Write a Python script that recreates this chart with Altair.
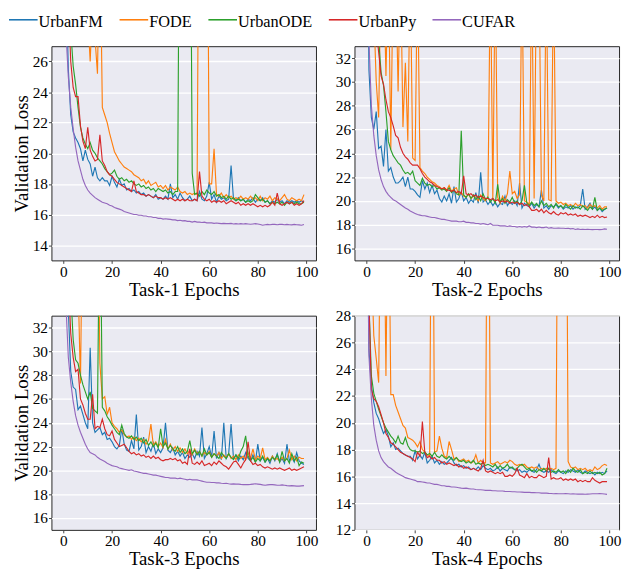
import altair as alt
import pandas as pd

models = ["UrbanFM", "FODE", "UrbanODE", "UrbanPy", "CUFAR"]
colors = ["#1f77b4", "#ff7f0e", "#2ca02c", "#d62728", "#9467bd"]
epochs = list(range(100))
x_ticks = [0, 20, 40, 60, 80, 100]

# ---------------- Task-1 ----------------
t1_urbanfm = [45, 32, 25.5, 22.5, 21.4, 21.0, 20.7, 20.3, 19.5, 20.2, 19.6, 19.3, 18.5, 19.1, 18.4, 18.2, 18.4, 18.2, 18.2, 17.9,
              18.5, 18.1, 17.8, 18.3, 17.9, 18.0, 17.6, 17.7, 17.5, 17.6, 17.4, 17.5, 17.3, 17.4, 17.2, 17.3, 17.2, 17.1, 17.3, 17.0,
              17.1, 17.0, 17.2, 17.0, 18.0, 17.1, 17.3, 17.0, 17.4, 17.1, 16.9, 17.0, 17.2, 16.9, 17.0, 16.9, 17.5, 17.0, 16.9, 17.2,
              18.1, 17.0, 17.3, 16.8, 17.2, 17.0, 17.1, 16.9, 17.0, 19.2, 17.0, 16.9, 17.1, 16.9, 17.0, 16.8, 17.0, 16.9, 17.1, 16.8,
              17.0, 16.9, 17.1, 16.8, 16.9, 16.7, 16.9, 16.8, 17.0, 16.8, 16.9, 16.7, 16.9, 16.8, 16.9, 16.8, 16.9, 16.8, 16.9, 16.8]
t1_fode = [50, 48, 46, 44, 42, 40, 38, 36, 34, 32, 29, 26.0, 30, 27.5, 25.2, 35, 23.0, 22.5, 22.0, 21.3,
           20.7, 20.1, 19.8, 19.5, 19.3, 19.1, 19.0, 18.9, 18.8, 18.6, 18.5, 18.4, 18.2, 18.3, 18.0, 18.2, 17.9, 18.0, 18.1, 17.8,
           17.9, 17.7, 17.9, 17.6, 17.8, 17.7, 17.6, 17.8, 17.5, 17.4, 17.5, 17.3, 17.4, 17.3, 17.4, 17.3, 45, 45, 45, 45,
           18.0, 18.0, 20.3, 17.3, 17.2, 17.4, 17.1, 17.3, 17.1, 17.2, 17.0, 17.1, 17.0, 17.2, 17.0, 17.1, 17.0, 17.2, 17.0, 17.1,
           16.9, 17.2, 16.9, 17.1, 17.0, 17.2, 16.9, 17.1, 17.0, 16.9, 17.1, 17.3, 17.0, 16.9, 17.1, 17.0, 16.9, 17.0, 16.9, 17.3]
t1_urbanode = [45, 38, 32, 28, 25.7, 24.5, 23.0, 21.7, 21.0, 20.6, 20.3, 20.7, 20.2, 20.0, 19.7, 19.5, 19.3, 19.0, 18.8, 18.6,
               18.7, 18.9, 18.5, 18.3, 18.4, 18.2, 18.3, 18.1, 18.2, 18.0, 17.9, 18.0, 17.8, 17.9, 17.7, 17.8, 17.6, 17.7, 17.5, 17.7,
               17.6, 17.5, 17.6, 17.4, 17.5, 17.3, 17.5, 17.5, 45, 45, 45, 45, 45, 18.7, 17.3, 17.4, 17.2, 17.5, 17.3, 17.6,
               17.4, 17.3, 17.5, 17.2, 17.3, 17.1, 17.2, 17.0, 17.2, 17.0, 17.1, 16.9, 17.0, 16.9, 17.0, 16.8, 16.9, 16.8, 16.9, 17.3,
               17.1, 16.9, 17.0, 16.8, 16.9, 16.7, 16.8, 16.7, 16.8, 16.7, 16.8, 16.6, 16.8, 16.7, 16.8, 16.7, 16.8, 16.7, 16.7, 16.8]
t1_urbanpy = [45, 36, 30, 26.0, 24.3, 23.7, 23.7, 21.8, 20.8, 20.3, 21.7, 20.2, 19.8, 19.5, 19.6, 21.2, 19.5, 19.2, 18.8, 18.6,
              18.5, 18.3, 18.1, 18.0, 17.9, 17.8, 17.7, 17.6, 17.5, 18.2, 17.5, 17.4, 17.3, 17.3, 17.2, 17.3, 17.2, 17.1, 17.2, 17.1,
              17.1, 17.0, 17.1, 17.0, 17.1, 17.0, 16.9, 17.0, 16.9, 17.0, 16.9, 17.0, 16.9, 16.9, 17.0, 16.9, 18.8, 17.2, 17.0, 16.9,
              17.0, 16.8, 16.9, 16.8, 16.9, 16.8, 16.9, 16.7, 16.8, 16.9, 16.8, 16.7, 16.8, 16.6, 16.7, 16.6, 16.7, 16.6, 16.7, 16.6,
              16.5, 16.6, 16.5, 16.6, 16.5, 16.6, 16.8, 16.6, 17.4, 16.7, 16.6, 16.7, 16.8, 16.7, 16.8, 16.6, 16.7, 16.6, 16.7, 16.9]
t1_cufar = [45, 28.0, 25.0, 23.0, 21.6, 20.4, 19.5, 18.9, 18.3, 17.9, 17.6, 17.4, 17.25, 17.1, 17.0, 16.9, 16.8, 16.75, 16.7, 16.6,
            16.55, 16.45, 16.4, 16.35, 16.3, 16.2, 16.15, 16.1, 16.05, 16.0, 16.0, 15.95, 15.95, 15.9, 15.9, 15.85, 15.85, 15.8, 15.8, 15.75,
            15.75, 15.7, 15.72, 15.7, 15.68, 15.65, 15.65, 15.6, 15.62, 15.58, 15.6, 15.55, 15.55, 15.5, 15.55, 15.5, 15.5, 15.48, 15.5, 15.45,
            15.45, 15.45, 15.42, 15.44, 15.42, 15.4, 15.42, 15.4, 15.4, 15.42, 15.38, 15.4, 15.38, 15.4, 15.38, 15.4, 15.38, 15.36, 15.38, 15.4,
            15.38, 15.35, 15.3, 15.33, 15.35, 15.33, 15.35, 15.35, 15.33, 15.35, 15.35, 15.33, 15.35, 15.33, 15.32, 15.35, 15.33, 15.32, 15.3, 15.35]

# ---------------- Task-2 ----------------
t2_urbanfm = [50, 31, 27.0, 26.0, 27.5, 24.4, 24.6, 22.9, 26.0, 22.5, 22.8, 22.0, 21.5, 21.5, 21.7, 22.0, 21.2, 22.0, 21.0, 21.0,
              20.8, 20.5, 20.3, 21.7, 21.0, 21.5, 20.7, 21.3, 20.6, 20.9, 20.2, 19.9, 20.4, 20.0, 20.6, 19.8, 21.2, 19.9, 20.2, 20.8,
              20.0, 20.3, 19.8, 20.1, 19.9, 20.7, 19.8, 22.4, 19.9, 20.1, 19.7, 20.0, 19.6, 19.9, 19.5, 19.8, 19.7, 20.4, 19.6, 19.9,
              19.7, 20.0, 19.6, 21.5, 19.4, 19.8, 19.6, 19.5, 19.8, 19.4, 19.7, 19.5, 20.9, 19.4, 19.6, 19.3, 19.6, 19.5, 19.7, 19.4,
              19.6, 19.3, 19.5, 19.4, 19.6, 19.3, 19.5, 19.4, 19.6, 21.0, 19.3, 19.5, 19.8, 19.3, 19.5, 19.2, 19.4, 19.1, 19.3, 19.4]
t2_fode = [50, 48, 45, 36, 30, 27.0, 40, 40, 30.5, 40, 24.3, 40, 40, 29.2, 40, 26.2, 31.6, 25.0, 40, 23.6,
           23.4, 40, 22.8, 22.5, 22.3, 22.0, 21.8, 21.6, 21.5, 21.3, 21.2, 21.0, 21.1, 20.9, 21.3, 20.8, 21.0, 21.1, 20.5, 20.7,
           20.4, 20.3, 20.6, 20.2, 20.4, 20.3, 20.0, 20.5, 20.2, 20.0, 20.4, 40, 20.2, 40, 20.3, 19.8, 20.4, 20.0, 20.6, 22.5,
           20.6, 20.8, 20.2, 20.5, 40, 20.0, 19.9, 19.7, 40, 20.2, 40, 40, 20.5, 20.0, 40, 20.1, 20.0, 40, 20.0, 19.8,
           19.9, 19.7, 19.8, 19.6, 19.7, 19.5, 19.8, 19.6, 19.7, 19.5, 19.6, 19.4, 19.7, 19.5, 19.6, 19.4, 19.6, 19.3, 19.5, 19.5]
t2_urbanode = [50, 45, 40, 37, 35, 33.5, 30.8, 29.7, 27.5, 25.0, 24.3, 23.8, 23.5, 23.2, 23.0, 22.6, 22.3, 22.4, 22.2, 22.5,
               21.7, 21.5, 21.3, 21.9, 21.5, 21.3, 21.4, 21.2, 21.3, 21.0, 21.1, 20.9, 21.0, 20.8, 21.1, 20.7, 20.9, 20.6, 20.5, 25.9,
               20.5, 20.3, 20.6, 20.2, 20.5, 20.1, 20.4, 20.0, 20.6, 20.1, 20.3, 19.9, 20.2, 19.8, 21.4, 19.9, 20.2, 19.8, 20.1, 19.9,
               20.3, 19.8, 20.0, 19.7, 20.0, 21.3, 19.8, 19.6, 19.9, 19.6, 19.8, 19.5, 20.0, 19.6, 19.8, 19.5, 19.7, 19.4, 19.8, 19.5,
               19.6, 19.4, 19.7, 19.5, 19.3, 19.6, 19.4, 19.5, 19.3, 19.6, 19.4, 19.2, 19.5, 19.3, 20.3, 19.2, 19.4, 19.2, 19.3, 19.4]
t2_urbanpy = [50, 45, 40, 37, 34.5, 32.5, 30.5, 29.8, 28.5, 27.5, 27.0, 26.3, 25.5, 25.3, 24.5, 24.0, 23.7, 23.5, 23.2, 23.0,
              23.0, 23.0, 22.7, 22.3, 22.0, 21.8, 21.6, 21.5, 21.3, 21.2, 21.1, 21.0, 21.1, 20.9, 20.9, 20.8, 20.9, 20.7, 20.8, 20.6,
              22.1, 20.6, 20.5, 20.6, 20.4, 20.5, 20.3, 20.4, 20.3, 20.2, 20.2, 20.1, 20.2, 20.0, 20.1, 19.9, 20.0, 19.9, 20.0, 19.8,
              19.9, 19.8, 19.9, 19.7, 19.8, 19.6, 19.7, 19.5, 19.2, 19.2, 19.3, 19.1, 19.3, 19.0, 19.2, 19.0, 18.9, 19.1, 18.9, 18.8,
              19.0, 18.9, 19.0, 18.8, 18.9, 18.8, 18.9, 18.7, 18.8, 18.7, 18.8, 18.7, 18.6, 18.7, 18.6, 18.8, 18.6, 18.7, 18.6, 18.65]
t2_cufar = [50, 33.5, 28.0, 25.5, 23.8, 22.6, 21.8, 21.2, 20.8, 20.5, 20.3, 20.1, 20.0, 19.85, 19.7, 19.55, 19.4, 19.3, 19.15, 19.05,
            18.95, 18.85, 18.8, 18.75, 18.75, 18.7, 18.65, 18.6, 18.6, 18.55, 18.5, 18.45, 18.45, 18.4, 18.35, 18.3, 18.3, 18.3, 18.25, 18.25,
            18.3, 18.2, 18.2, 18.15, 18.15, 18.1, 18.1, 18.05, 18.1, 18.05, 18.0, 18.1, 17.95, 17.95, 17.95, 17.9, 17.9, 17.9, 17.85, 17.9,
            17.85, 17.85, 17.8, 17.85, 17.8, 17.85, 17.8, 17.9, 17.8, 17.8, 17.75, 17.8, 17.75, 17.75, 17.8, 17.7, 17.75, 17.7, 17.7, 17.72,
            17.7, 17.7, 17.68, 17.7, 17.65, 17.68, 17.6, 17.65, 17.6, 17.62, 17.6, 17.62, 17.6, 17.58, 17.6, 17.6, 17.58, 17.6, 17.65, 17.62]

# ---------------- Task-3 ----------------
t3_urbanfm = [50, 40, 33.5, 28.3, 27.0, 26.8, 25.1, 25.4, 24.7, 24.0, 23.5, 30.3, 24.0, 23.2, 23.4, 23.6, 23.0, 23.2, 22.6, 22.7,
              22.4, 22.0, 21.8, 22.1, 23.5, 22.2, 21.7, 21.6, 22.5, 21.8, 24.7, 21.7, 22.0, 22.8, 21.5, 22.0, 21.6, 22.3, 21.4, 21.8,
              21.5, 21.9, 24.0, 21.7, 21.5, 21.9, 21.3, 21.6, 21.2, 21.5, 21.0, 21.3, 21.1, 21.4, 21.0, 21.6, 21.2, 23.6, 21.0, 21.4,
              22.0, 21.1, 23.3, 21.0, 21.5, 20.9, 24.0, 21.0, 21.4, 23.9, 21.0, 21.3, 20.8, 21.2, 20.9, 21.5, 21.0, 20.8, 21.3, 20.7,
              22.2, 20.8, 21.1, 20.7, 21.0, 20.6, 21.2, 20.8, 21.4, 20.7, 21.0, 20.6, 22.2, 20.8, 21.1, 20.7, 21.5, 20.8, 20.6, 20.5]
t3_fode = [50, 48, 45, 42, 40, 38, 36, 27.3, 45, 45, 45, 45, 45, 45, 45, 29.0, 26.0, 26.2, 24.7, 25.3,
           24.0, 23.7, 23.5, 23.2, 23.4, 23.0, 22.8, 22.9, 22.6, 22.8, 22.5, 22.7, 22.4, 22.6, 22.2, 22.5, 23.9, 22.1, 22.4, 22.0,
           22.3, 21.9, 22.6, 21.8, 22.2, 21.7, 22.0, 21.6, 21.9, 21.5, 21.8, 21.4, 21.7, 21.3, 21.8, 21.4, 21.6, 21.2, 21.5, 21.3,
           21.6, 21.1, 21.4, 21.2, 21.5, 21.0, 21.3, 21.1, 21.4, 21.0, 21.2, 20.9, 21.3, 21.0, 21.2, 20.9, 21.5, 21.0, 21.8, 20.9,
           21.2, 21.0, 21.9, 20.9, 21.1, 20.8, 21.2, 20.9, 21.0, 20.8, 21.1, 20.8, 21.0, 21.7, 20.9, 21.2, 20.8, 21.1, 21.0, 21.0]
t3_urbanode = [50, 45, 40, 35, 31, 29.3, 29.0, 28.0, 27.2, 26.6, 26.0, 26.6, 25.2, 25.0, 24.8, 45, 25.3, 25.0, 24.5, 24.2,
               23.8, 23.5, 23.2, 23.0, 23.8, 23.1, 22.8, 22.7, 22.9, 22.6, 22.8, 22.5, 22.7, 22.3, 22.6, 22.1, 22.4, 22.0, 22.3, 21.9,
               23.5, 22.0, 22.3, 21.8, 22.1, 21.8, 21.6, 22.0, 21.5, 21.8, 21.4, 21.6, 22.5, 21.4, 21.7, 21.3, 21.6, 21.2, 21.8, 21.3,
               21.5, 21.1, 21.4, 21.2, 21.0, 21.5, 21.2, 21.0, 21.4, 21.1, 20.9, 21.3, 21.0, 21.6, 22.0, 22.9, 21.2, 20.8, 21.1, 20.7,
               21.0, 20.8, 21.2, 20.7, 21.0, 20.8, 21.1, 20.9, 21.3, 20.7, 21.6, 20.8, 21.0, 20.6, 21.4, 20.8, 21.1, 20.4, 20.7, 20.6]
t3_urbanpy = [50, 42, 36, 31.5, 29.5, 28.3, 28.5, 26.0, 25.5, 24.8, 24.3, 24.3, 26.4, 23.5, 23.7, 23.6, 24.3, 23.5, 23.0, 22.9,
              23.3, 22.6, 22.3, 22.0, 22.1, 22.2, 21.9, 21.6, 21.4, 21.5, 21.3, 21.4, 21.2, 21.3, 21.1, 21.2, 21.0, 21.2, 21.0, 21.1,
              20.9, 20.8, 20.9, 20.9, 21.0, 20.9, 21.0, 20.8, 20.9, 20.6, 20.7, 20.5, 21.8, 20.6, 20.5, 20.7, 20.5, 20.8, 20.4, 20.5,
              20.6, 20.4, 20.7, 20.5, 20.8, 20.6, 20.4, 20.3, 20.1, 20.4, 20.7, 20.8, 20.5, 20.2, 20.6, 20.9, 22.4, 20.8, 20.5, 20.6,
              20.4, 20.5, 20.3, 20.2, 20.3, 20.2, 20.1, 20.2, 20.1, 20.2, 20.1, 20.0, 20.1, 20.2, 20.0, 20.1, 20.0, 20.1, 20.2, 20.3]
t3_cufar = [50, 34, 29.5, 27.4, 25.8, 24.6, 23.8, 23.2, 22.7, 22.2, 21.8, 21.5, 21.4, 21.3, 21.1, 20.95, 20.85, 20.75, 20.6, 20.5,
            20.4, 20.35, 20.3, 20.2, 20.15, 20.1, 20.05, 20.0, 20.05, 19.95, 19.9, 19.85, 19.8, 19.75, 19.75, 19.7, 19.65, 19.6, 19.6, 19.55,
            19.5, 19.45, 19.4, 19.4, 19.35, 19.35, 19.35, 19.3, 19.35, 19.3, 19.25, 19.2, 19.25, 19.2, 19.2, 19.2, 19.15, 19.1, 19.05, 19.0,
            19.0, 18.98, 18.98, 18.95, 18.95, 18.92, 18.9, 18.92, 18.88, 18.85, 18.87, 18.85, 18.85, 18.82, 18.8, 18.8, 18.8, 18.82, 18.85, 18.88,
            18.85, 18.82, 18.78, 18.75, 18.78, 18.8, 18.8, 18.78, 18.75, 18.75, 18.78, 18.75, 18.72, 18.7, 18.72, 18.7, 18.68, 18.68, 18.7, 18.72]

# ---------------- Task-4 ----------------
t4_urbanfm = [40, 25.5, 22.8, 21.5, 20.7, 20.3, 19.7, 19.2, 19.5, 19.0, 18.2, 18.5, 18.0, 18.1, 17.9, 17.7, 17.6, 17.5, 17.5, 17.2,
              17.9, 17.3, 17.6, 17.3, 17.8, 17.0, 17.2, 17.5, 17.0, 17.2, 16.9, 17.1, 16.9, 17.0, 17.2, 17.4, 17.0, 16.8, 16.9, 16.7,
              16.8, 16.6, 16.7, 16.5, 16.6, 16.5, 16.7, 16.5, 16.8, 16.6, 16.5, 16.6, 16.4, 16.5, 16.7, 16.4, 16.6, 16.5, 16.4, 16.7,
              16.6, 16.5, 16.4, 16.5, 16.3, 16.4, 16.3, 16.5, 16.4, 16.3, 16.5, 16.9, 16.4, 16.3, 16.4, 16.3, 16.5, 16.3, 16.2, 16.4,
              16.3, 16.2, 16.4, 16.3, 16.5, 16.4, 16.3, 16.5, 16.3, 16.2, 16.4, 16.3, 16.2, 16.3, 16.1, 16.3, 16.2, 16.3, 16.2, 16.4]
t4_fode = [45, 40, 32, 26.5, 24.8, 23.0, 40, 40, 23.5, 40, 22.1, 22.1, 21.3, 20.8, 20.3, 19.8, 19.6, 18.9, 18.8, 18.7,
           18.5, 18.2, 18.6, 18.0, 17.8, 17.6, 17.5, 50, 17.8, 17.9, 19.0, 18.1, 17.5, 17.4, 18.6, 18.0, 17.3, 17.4, 17.1, 17.2,
           17.3, 17.1, 17.2, 17.0, 17.1, 17.6, 17.0, 17.2, 17.0, 17.0, 50, 17.0, 16.9, 17.0, 17.1, 16.9, 17.0, 17.1, 17.0, 17.2,
           17.1, 16.9, 16.8, 16.9, 16.8, 16.9, 16.7, 16.6, 16.7, 16.6, 16.7, 16.5, 16.6, 16.5, 16.6, 16.5, 16.6, 16.5, 16.6, 50,
           50, 50, 50, 17.1, 16.7, 16.6, 16.7, 16.5, 16.6, 16.5, 16.6, 16.4, 16.5, 16.4, 16.7, 16.5, 16.6, 16.8, 16.9, 16.8]
t4_urbanode = [40, 29, 23.5, 22.2, 21.6, 21.0, 20.5, 20.0, 19.6, 19.3, 19.0, 18.8, 18.5, 19.0, 18.5, 18.4, 18.9, 18.3, 18.0, 17.9,
               17.9, 17.8, 17.9, 17.7, 17.8, 17.6, 17.7, 17.5, 17.8, 17.5, 17.4, 17.6, 17.4, 17.3, 17.5, 17.3, 17.2, 17.4, 17.2, 17.1,
               17.2, 17.0, 17.1, 17.0, 17.2, 16.9, 17.0, 16.9, 17.0, 16.8, 16.9, 16.8, 16.7, 16.9, 16.6, 16.8, 16.6, 16.7, 16.9, 16.6,
               16.7, 16.5, 16.6, 16.8, 16.9, 16.7, 16.5, 16.6, 16.4, 16.5, 16.3, 16.5, 16.4, 16.6, 16.4, 16.6, 16.3, 16.4, 16.3, 16.5,
               16.3, 16.4, 16.2, 16.5, 16.3, 16.6, 16.4, 16.3, 16.5, 16.2, 16.3, 16.2, 16.4, 16.2, 16.3, 16.2, 16.3, 16.1, 16.2, 16.6]
t4_urbanpy = [40, 29, 22.5, 21.8, 21.6, 21.2, 20.6, 20.0, 19.2, 18.9, 18.5, 18.4, 18.2, 18.0, 17.8, 17.7, 17.6, 17.5, 17.4, 17.3,
              17.1, 17.8, 17.5, 20.1, 17.8, 17.4, 17.5, 17.3, 17.4, 17.2, 17.2, 17.0, 17.1, 16.9, 17.0, 16.9, 16.8, 16.9, 16.7, 16.8,
              16.6, 16.7, 16.6, 16.5, 16.6, 16.5, 16.4, 16.6, 17.2, 16.4, 16.3, 16.4, 16.3, 16.2, 16.3, 16.2, 16.3, 16.0, 16.0, 16.1,
              16.0, 16.2, 16.6, 16.1, 16.0, 15.9, 16.2, 15.9, 16.0, 15.9, 15.9, 16.1, 16.0, 15.9, 16.0, 17.4, 15.8, 15.9, 15.8, 15.8,
              15.9, 15.7, 15.8, 15.7, 15.8, 15.7, 15.8, 15.6, 15.7, 15.6, 15.7, 15.6, 15.6, 15.9, 15.7, 15.6, 15.5, 15.6, 15.6, 15.6]
t4_cufar = [40, 25.0, 21.8, 19.8, 18.7, 17.9, 17.4, 17.1, 16.9, 16.7, 16.6, 16.45, 16.3, 16.2, 16.1, 16.0, 15.9, 15.85, 15.8, 15.75,
            15.7, 15.6, 15.6, 15.58, 15.55, 15.5, 15.5, 15.45, 15.4, 15.4, 15.35, 15.3, 15.3, 15.25, 15.25, 15.2, 15.2, 15.18, 15.15, 15.12,
            15.1, 15.12, 15.08, 15.05, 15.05, 15.02, 15.0, 15.0, 14.98, 14.95, 14.95, 14.95, 14.92, 14.92, 14.9, 14.9, 14.9, 14.88, 14.87, 14.87,
            14.85, 14.85, 14.83, 14.83, 14.82, 14.8, 14.8, 14.8, 14.78, 14.78, 14.77, 14.77, 14.75, 14.75, 14.75, 14.73, 14.72, 14.7, 14.72, 14.7,
            14.7, 14.7, 14.72, 14.7, 14.68, 14.7, 14.68, 14.67, 14.68, 14.67, 14.66, 14.67, 14.68, 14.7, 14.7, 14.7, 14.72, 14.7, 14.68, 14.65]

panels = [
    ("Task-1 Epochs", [t1_urbanfm, t1_fode, t1_urbanode, t1_urbanpy, t1_cufar], [13, 27], [14, 16, 18, 20, 22, 24, 26], True),
    ("Task-2 Epochs", [t2_urbanfm, t2_fode, t2_urbanode, t2_urbanpy, t2_cufar], [15, 33], [16, 18, 20, 22, 24, 26, 28, 30, 32], False),
    ("Task-3 Epochs", [t3_urbanfm, t3_fode, t3_urbanode, t3_urbanpy, t3_cufar], [15, 33], [16, 18, 20, 22, 24, 26, 28, 30, 32], True),
    ("Task-4 Epochs", [t4_urbanfm, t4_fode, t4_urbanode, t4_urbanpy, t4_cufar], [12, 28], [12, 14, 16, 18, 20, 22, 24, 26, 28], False),
]

FONT = "Liberation Serif"
W, H = 268, 217


def make_panel(title, series, ydom, yticks, show_ytitle):
    rows = []
    for m, vals in zip(models, series):
        for e, v in zip(epochs, vals):
            rows.append({"epoch": e, "loss": v, "model": m})
    df = pd.DataFrame(rows)
    yaxis = alt.Axis(values=yticks, title="Validation Loss" if show_ytitle else None)
    return alt.Chart(df).mark_line(clip=True, strokeWidth=1.15).encode(
        x=alt.X("epoch:Q", scale=alt.Scale(domain=[-4.95, 103.95], nice=False, zero=False),
                axis=alt.Axis(values=x_ticks, grid=False, title=title)),
        y=alt.Y("loss:Q", scale=alt.Scale(domain=ydom, nice=False, zero=False), axis=yaxis),
        color=alt.Color("model:N", scale=alt.Scale(domain=models, range=colors),
                        legend=alt.Legend(title=None, orient="none", direction="horizontal",
                                          legendX=-44, legendY=-35, symbolType="M-1,-0.5H1",
                                          symbolSize=840, symbolStrokeWidth=1.6, labelFont=FONT,
                                          labelFontSize=16.5, labelColor="black", labelOffset=0,
                                          labelBaseline="alphabetic",
                                          columnPadding=12, padding=0)),
        order="epoch:Q",
    ).properties(width=W, height=H)


charts = [make_panel(*p) for p in panels]
chart = alt.concat(*charts, columns=2, spacing={"row": 56, "column": 39}, bounds="flush").properties(
    padding=0
).configure_view(
    fill="#EAEAF2", stroke="#262626", strokeWidth=1
).configure_axis(
    domain=False, ticks=True, tickSize=3, tickColor="#444444", tickWidth=1,
    labelFont=FONT, labelFontSize=15.5, labelColor="black",
    labelPadding=1, titleFont=FONT, titleFontSize=19, titleFontWeight="normal",
    titleColor="black", titlePadding=1, gridColor="white", gridWidth=1.3
)

chart.save("out.html", embed_options={"renderer": "svg", "actions": False})
